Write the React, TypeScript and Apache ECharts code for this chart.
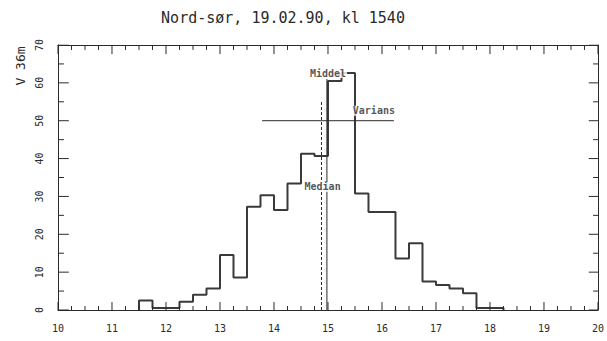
import React, { useEffect, useRef } from "react";
import * as echarts from "echarts";

const titleText = "Nord-sør, 19.02.90, kl 1540";
const yName = "V 36m";
const xMin = 10;
const xMax = 20;
const xMajor = 1;
const xMinor = 0.25;
const yMin = 0;
const yMax = 70;
const yMajor = 10;
const yMinor = 5;
const binEdges = [11.5, 11.75, 12.0, 12.25, 12.5, 12.75, 13.0, 13.25, 13.5, 13.75, 14.0, 14.25, 14.5, 14.75, 15.0, 15.25, 15.5, 15.75, 16.0, 16.25, 16.5, 16.75, 17.0, 17.25, 17.5, 17.75, 18.0];
const binWidth = 0.25;
const binValues = [2.5, 0.5, 0.5, 2.2, 4, 5.7, 14.5, 8.6, 27.3, 30.3, 26.4, 33.4, 41.3, 40.7, 60.5, 62.6, 30.8, 25.9, 25.9, 13.6, 17.6, 7.5, 6.6, 5.7, 4.4, 0.5, 0.5];
const medianX = 14.88;
const medianTop = 55;
const meanX = 14.98;
const meanTop = 61;
const varLeft = 13.78;
const varRight = 16.22;
const varY = 50;
const annotations = [
  { name: "Middel", x: 15.0, y: 62.6 },
  { name: "Median", x: 14.9, y: 32.5 },
  { name: "Varians", x: 15.85, y: 52.6 },
];

const FONT = "DejaVu Sans Mono";
const INK = "#2a2a2a";

function tickValues(min: number, max: number, minor: number, major: number) {
  const out: number[][] = [];
  const n = Math.round((max - min) / minor);
  for (let i = 0; i <= n; i++) {
    const v = min + i * minor;
    const isMajor = Math.abs(v / major - Math.round(v / major)) < 1e-6 ? 1 : 0;
    out.push([v, isMajor]);
  }
  return out;
}

export default function App() {
  const ref = useRef<HTMLDivElement>(null);
  useEffect(() => {
    if (!ref.current) return;
    const chart = echarts.init(ref.current, null, { renderer: "svg" });
    const histData: number[][] = [[binEdges[0], 0]];
    binEdges.forEach((e, i) => histData.push([e, binValues[i]]));
    histData.push([binEdges[binEdges.length - 1] + binWidth, 0]);

    const xTicks = tickValues(xMin, xMax, xMinor, xMajor);
    const yTicks = tickValues(yMin, yMax, yMinor, yMajor);

    // tick marks as line-series segments through the axes' own scale
    const tickSeries: any[] = [];
    xTicks.forEach(([v, major]) => {
      const lb = major ? 2.1 : 1.05; // bottom tick length in y units (≈8/4 px)
      const lt = major ? 2.4 : 1.3;
      tickSeries.push({ type: "line", silent: true, symbol: "none", data: [[v, yMin], [v, yMin + lb]], lineStyle: { color: INK, width: 1 }, z: 4 });
      tickSeries.push({ type: "line", silent: true, symbol: "none", data: [[v, yMax], [v, yMax - lt]], lineStyle: { color: INK, width: 1 }, z: 4 });
    });
    yTicks.forEach(([v, major]) => {
      const ll = major ? 0.2 : 0.11; // left tick length in x units (≈11/6 px)
      const lr = major ? 0.17 : 0.09;
      tickSeries.push({ type: "line", silent: true, symbol: "none", data: [[xMin, v], [xMin + ll, v]], lineStyle: { color: INK, width: 1 }, z: 4 });
      tickSeries.push({ type: "line", silent: true, symbol: "none", data: [[xMax, v], [xMax - lr, v]], lineStyle: { color: INK, width: 1 }, z: 4 });
    });

    const frameAxis = {
      axisLine: { show: true, onZero: false, lineStyle: { color: INK, width: 1 } },
      axisTick: { show: false },
      minorTick: { show: false },
      splitLine: { show: false },
    };

    chart.setOption({
      animation: false,
      backgroundColor: "#fff",
      grid: { left: 58, right: 7, top: 45, bottom: 31 },
      graphic: [
        {
          type: "text",
          x: 283,
          y: 18,
          style: { text: titleText, fill: INK, font: `15px "${FONT}"`, textAlign: "center", textVerticalAlign: "middle" },
        },
        {
          type: "text",
          x: 20,
          y: 66,
          rotation: Math.PI / 2,
          style: { text: yName, fill: INK, font: `13px "${FONT}"`, textAlign: "center", textVerticalAlign: "middle" },
        },
      ],
      xAxis: [
        {
          type: "value", min: xMin, max: xMax, interval: xMajor, position: "bottom",
          ...frameAxis,
          axisLabel: { show: true, color: INK, fontFamily: FONT, fontSize: 10, margin: 13 },
        },
        {
          type: "value", min: xMin, max: xMax, interval: xMajor, position: "top",
          ...frameAxis,
          axisLabel: { show: false },
        },
      ],
      yAxis: [
        {
          type: "value", min: yMin, max: yMax, interval: yMajor, position: "left",
          ...frameAxis,
          axisLabel: { show: true, color: INK, fontFamily: FONT, fontSize: 10, rotate: 90, margin: 14 },
        },
        {
          type: "value", min: yMin, max: yMax, interval: yMajor, position: "right",
          ...frameAxis,
          axisLabel: { show: false },
        },
      ],
      series: [
        ...tickSeries,
        {
          type: "line",
          step: "end",
          data: histData,
          symbol: "none",
          lineStyle: { color: "#3a3a3a", width: 2 },
          z: 3,
        },
        {
          type: "line",
          data: [[medianX, 0], [medianX, medianTop]],
          symbol: "none",
          lineStyle: { color: INK, width: 1, type: [3, 2] },
        },
        {
          type: "line",
          data: [[meanX, 0], [meanX, meanTop]],
          symbol: "none",
          lineStyle: { color: INK, width: 1 },
        },
        {
          type: "line",
          data: [[varLeft, varY], [varRight, varY]],
          symbol: "none",
          lineStyle: { color: INK, width: 1 },
        },
        {
          type: "scatter",
          symbolSize: 0,
          itemStyle: { color: INK },
          data: annotations.map((a) => ({ name: a.name, value: [a.x, a.y] })),
          label: {
            show: true,
            position: "inside",
            formatter: (p: any) => p.name,
            color: INK,
            textBorderWidth: 0,
            fontFamily: FONT,
            fontWeight: "bold",
            fontSize: 10,
            backgroundColor: "#fff",
            padding: [0, 1],
          },
          z: 5,
        },
      ],
    });
    return () => chart.dispose();
  }, []);
  return <div ref={ref} style={{ position: "absolute", left: 0, top: 0, width: 607, height: 341 }} />;
}
